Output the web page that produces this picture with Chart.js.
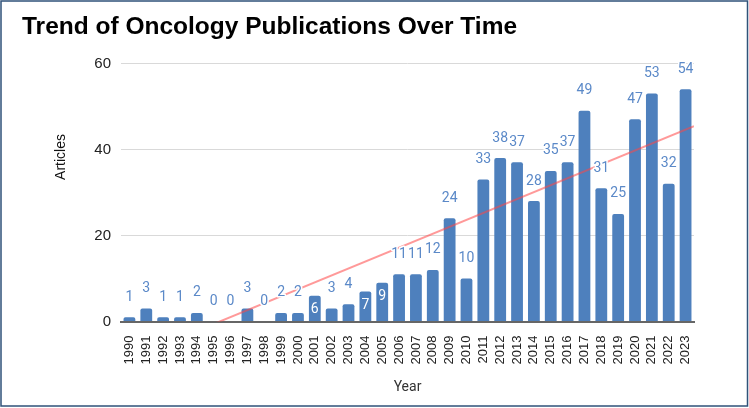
<!DOCTYPE html>
<html>
<head>
<meta charset="utf-8">
<script src="https://cdn.jsdelivr.net/npm/chart.js@4.4.1/dist/chart.umd.min.js"></script>
<style>
  html, body { margin: 0; padding: 0; background: #fff; }
  canvas { display: block; }
</style>
</head>
<body>
<canvas id="chart" width="749" height="408"></canvas>
<script>
var years = ['1990','1991','1992','1993','1994','1995','1996','1997','1998','1999',
             '2000','2001','2002','2003','2004','2005','2006','2007','2008','2009',
             '2010','2011','2012','2013','2014','2015','2016','2017','2018','2019',
             '2020','2021','2022','2023'];
var articles = [1, 3, 1, 1, 2, 0, 0, 3, 0, 2,
                2, 6, 3, 4, 7, 9, 11, 11, 12, 24,
                10, 33, 38, 37, 28, 35, 37, 49, 31, 25,
                47, 53, 32, 54];
// labels that sit inside the bar (white) in the original
var insideLabels = ['2001', '2004', '2005'];
var yTicks = [0, 20, 40, 60];

// least squares trend line over the year index
function trendFit(values) {
	var n = values.length, sx = 0, sy = 0, sxy = 0, sxx = 0;
	values.forEach(function(v, i) {
		sx += i; sy += v; sxy += i * v; sxx += i * i;
	});
	var slope = (n * sxy - sx * sy) / (n * sxx - sx * sx);
	return { slope: slope, intercept: (sy - slope * sx) / n };
}

var fit = trendFit(articles);

var framePlugin = {
	id: 'frame',
	beforeDraw: function(chart) {
		var c = chart.ctx;
		c.save();
		c.fillStyle = '#fff';
		c.fillRect(0, 0, chart.width, chart.height);
		c.restore();
	},
	afterDraw: function(chart) {
		var c = chart.ctx;
		c.save();
		// y axis title, sits a bit above the middle of the plot in the original
		c.translate(61, 157);
		c.rotate(-Math.PI / 2);
		c.font = '14px "Liberation Sans", Arial, sans-serif';
		c.fillStyle = '#111';
		c.textAlign = 'center';
		c.textBaseline = 'middle';
		c.fillText('Articles', 0, 0);
		c.restore();

		c.save();
		c.strokeStyle = '#2f5279';
		c.lineWidth = 1.5;
		c.strokeRect(1, 1, chart.width - 2.5, chart.height - 3);
		c.restore();
	}
};

var trendAndLabels = {
	id: 'trendAndLabels',
	afterDatasetsDraw: function(chart) {
		var c = chart.ctx, x = chart.scales.x, y = chart.scales.y, area = chart.chartArea;
		var n = articles.length;

		// trend line
		c.save();
		c.beginPath();
		c.rect(area.left, area.top, area.right - area.left, area.bottom - area.top);
		c.clip();
		var x0 = -0.5, x1 = n - 0.5;
		c.beginPath();
		c.moveTo(x.getPixelForValue(x0), y.getPixelForValue(fit.intercept + fit.slope * x0));
		c.lineTo(x.getPixelForValue(x1), y.getPixelForValue(fit.intercept + fit.slope * x1));
		c.strokeStyle = 'rgba(255, 70, 70, 0.55)';
		c.lineWidth = 2;
		c.stroke();
		c.restore();

		// value labels
		var meta = chart.getDatasetMeta(0);
		c.save();
		c.font = '14px Roboto';
		c.textAlign = 'center';
		c.textBaseline = 'middle';
		meta.data.forEach(function(bar, i) {
			var txt = String(articles[i]);
			if (insideLabels.indexOf(years[i]) >= 0) {
				c.fillStyle = '#ffffff';
				c.fillText(txt, bar.x, bar.y + 14);
			} else {
				c.lineWidth = 3;
				c.strokeStyle = '#ffffff';
				c.lineJoin = 'round';
				c.strokeText(txt, bar.x, bar.y - 20);
				c.fillStyle = '#5b89c8';
				c.fillText(txt, bar.x, bar.y - 20);
			}
		});
		c.restore();
	}
};

new Chart(document.getElementById('chart'), {
	type: 'bar',
	data: {
		labels: years,
		datasets: [{
			label: 'Articles',
			data: articles,
			backgroundColor: '#4e80bd',
			barPercentage: 0.7,
			categoryPercentage: 1,
			borderRadius: { topLeft: 2, topRight: 2 },
			borderSkipped: 'bottom'
		}]
	},
	options: {
		responsive: false,
		animation: false,
		layout: { padding: { left: 22, right: 55, top: 0, bottom: 0 } },
		plugins: {
			legend: { display: false },
			tooltip: { enabled: false },
			title: {
				display: true,
				text: 'Trend of Oncology Publications Over Time',
				align: 'start',
				color: '#000',
				font: { family: '"Liberation Sans", Arial, sans-serif', size: 24.5, weight: 'bold' },
				padding: { top: 13, bottom: 21 }
			}
		},
		scales: {
			x: {
				grid: { display: false },
				border: { display: true, color: '#666', width: 2 },
				ticks: {
					autoSkip: false,
					minRotation: 90,
					maxRotation: 90,
					padding: 6,
					color: '#222',
					font: { family: '"Liberation Sans", Arial, sans-serif', size: 13 }
				},
				title: {
					display: true,
					text: 'Year',
					color: '#333',
					font: { family: 'Roboto', size: 14 },
					padding: { top: 0, bottom: 12 }
				},
				afterFit: function(scale) { scale.height = 86.5; }
			},
			y: {
				min: 0,
				max: 60,
				afterBuildTicks: function(scale) {
					scale.ticks = yTicks.map(function(v) { return { value: v }; });
				},
				grid: { color: '#d9d9d9', drawTicks: false },
				border: { display: false },
				ticks: {
					padding: 10,
					color: '#222',
					font: { family: '"Liberation Sans", Arial, sans-serif', size: 15 }
				},
				afterFit: function(scale) { scale.width = 99; }
			}
		}
	},
	plugins: [framePlugin, trendAndLabels]
});
</script>
</body>
</html>
